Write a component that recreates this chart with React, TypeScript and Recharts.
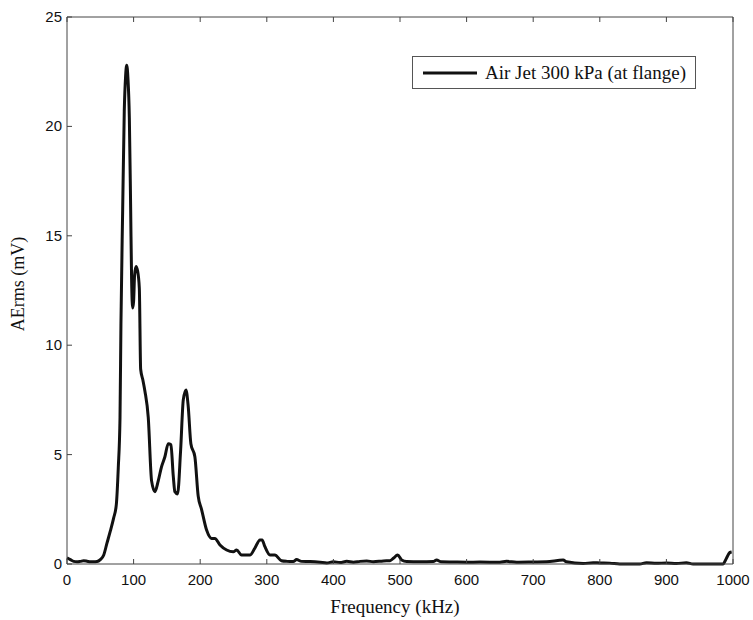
import { Label, Legend, Line, LineChart, XAxis, YAxis } from "recharts";

// frequency (kHz) and AE rms (mV)
const frequency = [
  0, 5, 10, 15, 20, 25, 30, 35, 40, 45, 50, 55, 60, 65, 70, 74, 77, 79.6, 81, 83.6, 86, 88, 89.6,
  91.5, 93.6, 95.6, 97, 98.6, 100, 101.5, 103.6, 106, 108.6, 110.6, 114, 117, 122, 127, 132, 137,
  142, 147, 152, 156, 159.6, 162, 166, 170.6, 174.6, 178.7, 182, 186, 192, 197, 202, 209.6, 217,
  222, 229.7, 239.7, 249.7, 254.7, 262, 274.7, 282, 289.8, 293, 297, 304.8, 312, 322, 330, 339.7,
  344.7, 352, 365, 380, 390, 400, 410, 420, 430, 440, 450, 460, 475, 485, 490, 496.5, 502.5, 510,
  530, 550, 555, 562, 580, 600, 620, 650, 660, 675, 700, 720, 745, 750, 775, 790, 800, 815, 830,
  850, 860, 870, 885, 900, 915, 930, 940, 960, 985, 990, 995, 998,
];

const aerms = [
  0.28, 0.2, 0.12, 0.1, 0.12, 0.15, 0.13, 0.1, 0.1, 0.11, 0.2, 0.4, 0.95, 1.5, 2.1, 2.7, 4.4, 6.7,
  11.0, 16.2, 20.7, 22.3, 22.8, 22.2, 20.4, 16.2, 13.0, 11.7, 12.0, 13.2, 13.6, 13.4, 12.6, 8.9, 8.4,
  7.9, 6.7, 3.8, 3.3, 3.8, 4.45, 4.9, 5.5, 5.45, 4.0, 3.3, 3.2, 5.2, 7.5, 7.95, 7.2, 5.5, 4.9, 3.1,
  2.5, 1.55, 1.17, 1.17, 0.87, 0.64, 0.56, 0.64, 0.41, 0.41, 0.72, 1.1, 1.1, 0.8, 0.41, 0.41, 0.15,
  0.12, 0.11, 0.2, 0.12, 0.11, 0.08, 0.05, 0.1, 0.07, 0.12, 0.08, 0.12, 0.14, 0.1, 0.14, 0.15, 0.26,
  0.41, 0.18, 0.11, 0.1, 0.11, 0.18, 0.1, 0.09, 0.08, 0.09, 0.08, 0.12, 0.08, 0.09, 0.1, 0.18, 0.1,
  0.02, 0.06, 0.05, 0.04, 0.0, 0.0, 0.0, 0.06, 0.03, 0.05, 0.02, 0.06, 0.0, 0.0, 0.0, 0.25, 0.52,
  0.55,
];

const xTicks = [0, 100, 200, 300, 400, 500, 600, 700, 800, 900, 1000];
const yTicks = [0, 5, 10, 15, 20, 25];
const seriesName = "Air Jet 300 kPa (at flange)";

const data = frequency.map((f, i) => ({ f, v: aerms[i] }));

const tickFont = { fontFamily: "'Liberation Sans', Arial, sans-serif", fontSize: 15 };
const serif = "'Liberation Serif', 'Times New Roman', serif";
const axisColor = "#444";

function BottomTick(props: any) {
  const { x, y, payload } = props;
  return (
    <g>
      <line x1={x} y1={y} x2={x} y2={y - 5} stroke={axisColor} />
      <text x={x} y={y + 21} textAnchor="middle" fill="#111" style={tickFont}>
        {payload.value}
      </text>
    </g>
  );
}

function LeftTick(props: any) {
  const { x, y, payload } = props;
  return (
    <g>
      <line x1={x} y1={y} x2={x + 5} y2={y} stroke={axisColor} />
      <text x={x - 5} y={y + 5} textAnchor="end" fill="#111" style={tickFont}>
        {payload.value}
      </text>
    </g>
  );
}

function TopTick(props: any) {
  const { x, y } = props;
  return <line x1={x} y1={y} x2={x} y2={y + 5} stroke={axisColor} />;
}

function RightTick(props: any) {
  const { x, y } = props;
  return <line x1={x} y1={y} x2={x - 5} y2={y} stroke={axisColor} />;
}

function LegendBox() {
  return (
    <div
      style={{
        border: "1px solid #555",
        background: "#fff",
        height: 33,
        display: "flex",
        alignItems: "center",
        boxSizing: "border-box",
      }}
    >
      <svg width={72} height={31}>
        <line x1={10} y1={16} x2={64} y2={16} stroke="#111" strokeWidth={3} />
      </svg>
      <span style={{ fontFamily: serif, fontSize: 19, color: "#111", whiteSpace: "nowrap" }}>
        {seriesName}
      </span>
    </div>
  );
}

export default function App() {
  return (
    <div style={{ position: "absolute", left: 0, top: 0, background: "#fff" }}>
      <LineChart width={753} height={620} data={data} margin={{ top: 0, right: 0, bottom: 0, left: 0 }}>
        <XAxis
          dataKey="f"
          type="number"
          domain={[0, 1000]}
          ticks={xTicks}
          height={56}
          tickSize={0}
          tickMargin={0}
          tickLine={false}
          tick={<BottomTick />}
          axisLine={{ stroke: axisColor }}
          interval={0}
        >
          <Label
            content={() => (
              <text x={395} y={613} textAnchor="middle" fill="#111" style={{ fontFamily: serif, fontSize: 19 }}>
                Frequency (kHz)
              </text>
            )}
          />
        </XAxis>
        <XAxis
          xAxisId="top"
          orientation="top"
          dataKey="f"
          type="number"
          domain={[0, 1000]}
          ticks={xTicks}
          height={17}
          tickSize={0}
          tickMargin={0}
          tickLine={false}
          tick={<TopTick />}
          axisLine={{ stroke: axisColor }}
          interval={0}
        />
        <YAxis
          type="number"
          domain={[0, 25]}
          ticks={yTicks}
          width={67}
          tickSize={0}
          tickMargin={0}
          tickLine={false}
          tick={<LeftTick />}
          axisLine={{ stroke: axisColor }}
          interval={0}
        >
          <Label
            content={() => (
              <text
                x={18}
                y={284}
                transform="rotate(-90 18 284)"
                textAnchor="middle"
                dominantBaseline="central"
                fill="#111"
                style={{ fontFamily: serif, fontSize: 18 }}
              >
                AErms (mV)
              </text>
            )}
          />
        </YAxis>
        <YAxis
          yAxisId="right"
          orientation="right"
          type="number"
          domain={[0, 25]}
          ticks={yTicks}
          width={20}
          tickSize={0}
          tickMargin={0}
          tickLine={false}
          tick={<RightTick />}
          axisLine={{ stroke: axisColor }}
          interval={0}
        />
        <Legend
          layout="horizontal"
          verticalAlign="middle"
          align="center"
          content={<LegendBox />}
          wrapperStyle={{ left: 412, top: 56, width: 284, right: "auto", bottom: "auto" }}
        />
        <Line
          type="monotone"
          dataKey="v"
          name={seriesName}
          stroke="#111"
          strokeWidth={3}
          dot={false}
          isAnimationActive={false}
        />
      </LineChart>
    </div>
  );
}
